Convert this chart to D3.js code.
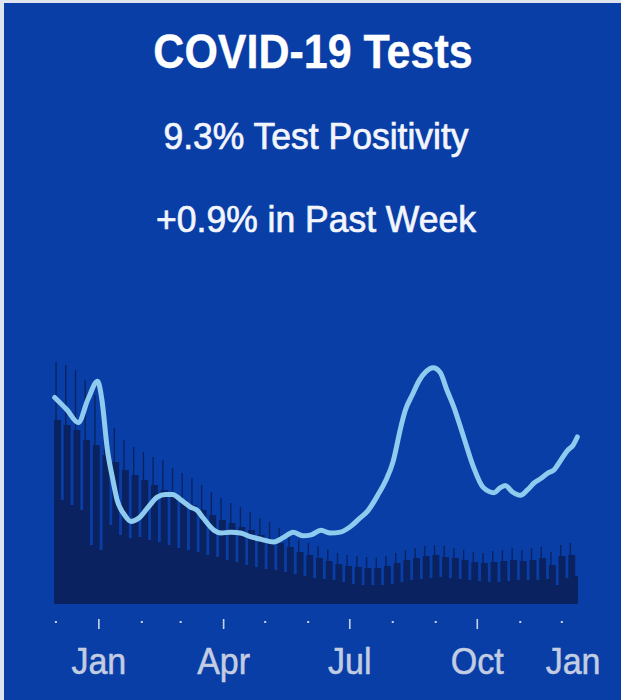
<!DOCTYPE html>
<html><head><meta charset="utf-8">
<script src="https://cdn.jsdelivr.net/npm/d3@7"></script>
<style>html,body{margin:0;padding:0;background:#fff;} svg{display:block;}</style>
</head><body>
<svg id="chart" width="621" height="700"></svg>
<script>
// ---------- data ----------
const titleText = "COVID-19 Tests";
const subtitle1 = "9.3% Test Positivity";
const subtitle2 = "+0.9% in Past Week";

// daily tests (thousands), one entry per week starting Monday 2020-11-30
const firstWeekStart = "2020-11-30";
const lastDataDate = "2021-12-12";
const peakTests = [96.8,95.6,93.6,89.6,83.6,73.6,70.4,65.6,62.8,60.8,58.8,57.6,54.4,52.4,50.4,47.6,44.8,42.4,40.4,38.8,36.8,34.4,32.8,30.4,28.4,25.6,24.4,23.2,21.6,20.4,19.6,19.2,18.8,18.4,19.2,20.4,21.6,22.4,23.2,23.6,23.2,22.4,21.6,20.8,20.4,21.2,21.6,22.4,21.6,22.4,22.8,20.8,23.6,24.4];
const weekdayTests = [73.6,71.6,69.6,65.6,63.6,59.6,56.8,53.6,51.6,49.6,47.6,45.6,43.6,41.6,39.6,37.6,35.6,33.6,32.4,30.8,29.6,27.6,25.6,24.4,22.8,20.8,19.6,18.4,17.2,16.0,15.2,14.8,14.4,14.4,15.2,16.4,17.6,18.4,19.2,19.6,18.8,18.4,17.6,16.8,16.4,16.8,17.2,17.6,17.2,17.6,18.4,15.6,19.2,19.6];
const weekendTests = [41.6,39.6,37.6,23.6,21.6,31.6,27.6,26.4,26.8,25.6,24.8,23.6,22.4,21.6,20.8,19.6,18.8,17.6,16.8,15.6,14.8,14.0,13.6,12.8,12.0,11.2,10.4,10.0,9.6,8.8,8.0,7.6,7.6,7.6,8.0,8.8,9.6,10.0,10.4,10.8,10.4,10.0,9.6,9.2,8.8,8.8,9.2,9.6,9.6,9.6,10.0,7.6,10.4,11.2];
const dayPattern = ["weekday","peak","weekday","weekday","weekday","weekend","weekend"];

// test positivity (%), 7-day average
const posDates = ["2020-11-30","2020-12-09","2020-12-17","2020-12-24","2020-12-31","2021-01-03","2021-01-07","2021-01-11","2021-01-14","2021-01-19","2021-01-24","2021-01-30","2021-02-05","2021-02-12","2021-02-18","2021-02-23","2021-03-01","2021-03-08","2021-03-13","2021-03-17","2021-03-25","2021-03-30","2021-04-06","2021-04-13","2021-04-20","2021-04-28","2021-05-07","2021-05-14","2021-05-21","2021-05-28","2021-06-03","2021-06-10","2021-06-17","2021-06-24","2021-07-02","2021-07-07","2021-07-14","2021-07-21","2021-07-27","2021-08-01","2021-08-07","2021-08-10","2021-08-15","2021-08-20","2021-08-25","2021-08-30","2021-09-04","2021-09-09","2021-09-14","2021-09-21","2021-09-28","2021-10-05","2021-10-13","2021-10-17","2021-10-21","2021-10-26","2021-11-01","2021-11-06","2021-11-11","2021-11-16","2021-11-21","2021-11-25","2021-11-30","2021-12-05","2021-12-09","2021-12-12"];
const posValues = [11.5,10.8,10.1,11.4,12.4,11.4,8.6,6.9,5.8,5.0,4.6,4.8,5.35,5.95,6.1,6.1,5.8,5.4,5.2,4.8,4.1,3.95,4.0,3.95,3.75,3.6,3.45,3.7,4.0,3.8,3.85,4.1,3.95,4.0,4.35,4.7,5.2,6.05,6.9,7.9,9.95,10.8,11.65,12.45,12.95,13.15,12.9,11.9,10.95,9.3,7.65,6.5,6.2,6.45,6.6,6.25,6.05,6.35,6.75,7.0,7.3,7.45,8.0,8.55,8.85,9.3];

// axis ticks
const tickDates = ["2020-12-01","2021-01-01","2021-02-01","2021-03-01","2021-04-01","2021-05-01","2021-06-01","2021-07-01","2021-08-01","2021-09-01","2021-10-01","2021-11-01","2021-12-01","2022-01-01"];
const majorTickLabels = {"2021-01-01":"Jan","2021-04-01":"Apr","2021-07-01":"Jul","2021-10-01":"Oct","2022-01-01":"Jan"};

// ---------- drawing ----------
const parse = d3.utcParse("%Y-%m-%d");
const fmt = d3.utcFormat("%Y-%m-%d");
const svg = d3.select("#chart");
const W = 621, H = 700;

svg.append("rect").attr("x",0).attr("y",0).attr("width",W).attr("height",H).attr("fill","#dfe4ee");
svg.append("rect").attr("x",4).attr("y",3).attr("width",W-4).attr("height",H-3).attr("fill","#0a3ea7");

const FONT = "'Liberation Sans', Arial, Helvetica, sans-serif";
function addText(txt, cx, baseline, size, weight, sy, color, sw){
  svg.append("text")
    .attr("transform",`translate(${cx},${baseline}) scale(1,${sy})`)
    .attr("text-anchor","middle")
    .attr("font-family",FONT).attr("font-size",size).attr("font-weight",weight)
    .attr("fill",color).attr("stroke",color).attr("stroke-width",sw)
    .text(txt);
}
addText(titleText, 313, 68, 43, "bold", 1.1, "#ffffff", 0.3);
addText(subtitle1, 316, 149, 35.5, "normal", 1.03, "#f2f5fb", 0.7);
addText(subtitle2, 316, 232, 35.5, "normal", 1.03, "#f2f5fb", 0.7);

const x = d3.scaleUtc().domain([parse("2020-11-30"), parse("2021-12-13")]).range([54, 578]);
const yTests = d3.scaleLinear().domain([0,100]).range([604,354]);
const yPos = d3.scaleLinear().domain([0,15]).range([604,334.6]);

// daily bars (drawn as one stepped shape to avoid seams)
const start = parse(firstWeekStart), last = parse(lastDataDate);
const series = {peak: peakTests, weekday: weekdayTests, weekend: weekendTests};
const bars = [];
peakTests.forEach((_, w) => {
  dayPattern.forEach((kind, k) => {
    const d = d3.utcDay.offset(start, w*7 + k);
    if (d <= last) bars.push({date: d, value: series[kind][w]});
  });
});
const stepData = bars.concat([{date: d3.utcDay.offset(last,1), value: bars[bars.length-1].value}]);
svg.append("path").datum(stepData)
  .attr("d", d3.area().x(d => x(d.date)).y0(yTests(0)).y1(d => yTests(d.value)).curve(d3.curveStepAfter))
  .attr("fill", "#0a2360");

// positivity line
const posData = posDates.map((s,i) => ({date: d3.utcHour.offset(parse(s), 12), value: posValues[i]}));
svg.append("path").datum(posData)
  .attr("d", d3.line().x(d => x(d.date)).y(d => yPos(d.value)).curve(d3.curveMonotoneX))
  .attr("fill","none").attr("stroke","#8fcbef").attr("stroke-width",5)
  .attr("stroke-linecap","round").attr("stroke-linejoin","round");

// x axis
const axis = d3.axisBottom(x)
  .tickValues(tickDates.map(parse))
  .tickSize(0).tickPadding(0)
  .tickFormat(d => majorTickLabels[fmt(d)] || "");
const gA = svg.append("g").attr("transform","translate(0,617)").call(axis);
gA.select(".domain").remove();
gA.selectAll(".tick").each(function(d){
  const g = d3.select(this);
  const key = fmt(d);
  const isMajor = key in majorTickLabels;
  const inside = x(d) <= 578;
  g.select("line").remove();
  if (inside) {
    if (isMajor) g.append("rect").attr("x",-0.8).attr("y",2).attr("width",1.6).attr("height",10).attr("fill","#c9d3e6");
    else g.append("rect").attr("x",-1).attr("y",4).attr("width",2).attr("height",2).attr("fill","#c9d3e6");
  }
  const t = g.select("text")
    .attr("font-family",FONT).attr("font-size",34).attr("fill","#c3cde2")
    .attr("stroke","#c3cde2").attr("stroke-width",0.5)
    .attr("y",0).attr("dy",0)
    .attr("transform","translate(0,57) scale(1,1.06)");
  if (!inside) t.attr("text-anchor","end").attr("x", 600 - x(d));
});
</script>
</body></html>
